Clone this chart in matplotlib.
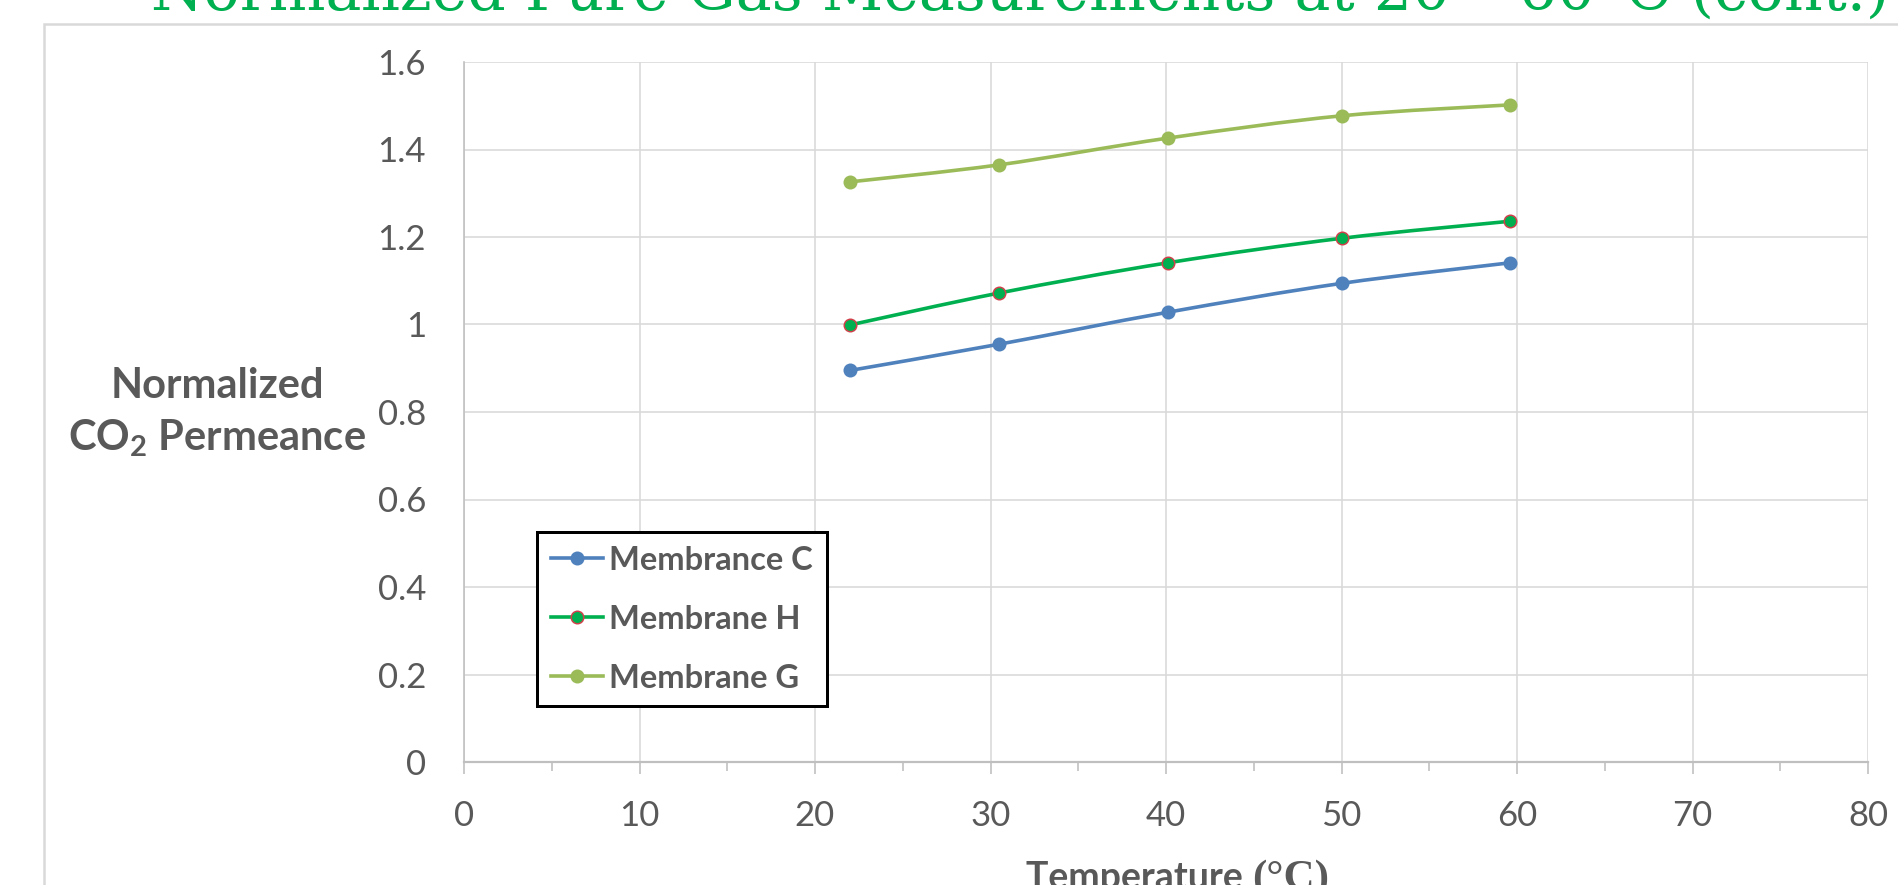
import numpy as np
import matplotlib
matplotlib.use('Agg')
import matplotlib.pyplot as plt
from matplotlib.path import Path
from matplotlib.patches import PathPatch, Rectangle
from matplotlib.lines import Line2D

# data
temps = [22, 30.5, 40.1, 50, 59.6]
membrance_c = [0.895, 0.955, 1.028, 1.094, 1.141]
membrane_h = [0.999, 1.072, 1.141, 1.197, 1.236]
membrane_g = [1.326, 1.365, 1.426, 1.477, 1.502]
series_names = ['Membrance C', 'Membrane H', 'Membrane G']

x_ticks = [0, 10, 20, 30, 40, 50, 60, 70, 80]
y_ticks = [0, 0.2, 0.4, 0.6, 0.8, 1.0, 1.2, 1.4, 1.6]
y_tick_labels = ['0', '0.2', '0.4', '0.6', '0.8', '1', '1.2', '1.4', '1.6']

title = 'Normalized Pure Gas Measurements at 20 \u2013 60\u00b0C (cont.)'

W, H = 1898, 885
GRAY_TXT = '#595959'
GRID = '#D9D9D9'
AXIS = '#BFBFBF'

plt.rcParams['font.family'] = ['Lato', 'DejaVu Sans']


def smooth_path(x, y):
    # excel style smoothed line (catmull-rom as bezier segments)
    pts = np.column_stack([x, y]).astype(float)
    n = len(pts)
    verts = [pts[0]]
    codes = [Path.MOVETO]
    for i in range(n - 1):
        p0 = pts[max(i - 1, 0)]
        p1 = pts[i]
        p2 = pts[i + 1]
        p3 = pts[min(i + 2, n - 1)]
        verts += [p1 + (p2 - p0) / 6, p2 - (p3 - p1) / 6, p2]
        codes += [Path.CURVE4] * 3
    return Path(verts, codes)


def px(v):
    # pixels -> points
    return v * 72 / 100


fig = plt.figure(figsize=(W / 100, H / 100), dpi=100)

# outer chart border
fig.add_artist(Rectangle((44 / W, -0.05), 1.2, 1 - 24 / H + 0.05,
                         transform=fig.transFigure, fill=False,
                         edgecolor=GRID, lw=px(2.5)))

ax = fig.add_axes([464 / W, 1 - 762 / H, (1868 - 464) / W, (762 - 62) / H])

series = [
    (membrance_c, '#4F81BD', '#4F81BD', '#4F81BD'),
    (membrane_h, '#00B050', '#00B050', '#D0404A'),
    (membrane_g, '#9BBB59', '#9BBB59', '#9BBB59'),
]

handles = []
for (vals, lc, mfc, mec), name in zip(series, series_names):
    ax.add_patch(PathPatch(smooth_path(temps, vals), facecolor='none',
                           edgecolor=lc, lw=px(3.6), zorder=3,
                           capstyle='round', joinstyle='round'))
    ax.plot(temps, vals, linestyle='none', marker='o', ms=px(12.5),
            mfc=mfc, mec=mec, mew=px(1.5), zorder=4)
    handles.append(Line2D([], [], color=lc, lw=px(3.6), marker='o',
                          ms=px(12.5), mfc=mfc, mec=mec, mew=px(1.5)))

ax.set_xlim(0, 80)
ax.set_ylim(0, 1.6)
ax.set_xticks(x_ticks)
ax.set_xticklabels([str(t) for t in x_ticks])
ax.set_xticks([5, 15, 25, 35, 45, 55, 65, 75], minor=True)
ax.set_yticks(y_ticks)
ax.set_yticklabels(y_tick_labels)

ax.grid(True, which='major', color=GRID, lw=px(1.6), zorder=0)
ax.set_axisbelow(True)
for s in ['top', 'right']:
    ax.spines[s].set_visible(False)
ax.spines['bottom'].set_color(AXIS)
ax.spines['bottom'].set_linewidth(px(2.2))
ax.spines['left'].set_color(AXIS)
ax.spines['left'].set_linewidth(px(1.6))

ax.tick_params(axis='x', which='major', direction='out', length=px(12),
               width=px(1.6), color=AXIS, pad=px(26), labelsize=25,
               labelcolor=GRAY_TXT)
ax.tick_params(axis='x', which='minor', direction='out', length=px(9),
               width=px(1.6), color=AXIS)
ax.tick_params(axis='y', length=0, pad=px(38), labelsize=25,
               labelcolor=GRAY_TXT)

# y label, horizontal two lines
fig.text(217 / W, 1 - 398 / H, 'Normalized', ha='center', va='baseline',
         fontsize=30, fontweight='bold', color=GRAY_TXT)
fig.text(217 / W, 1 - 450 / H, r'CO$_\mathregular{2}$ Permeance', ha='center',
         va='baseline', fontsize=30, fontweight='bold', color=GRAY_TXT)

# x label (cut by the bottom edge)
xl_y = 1 - 889 / H
fig.text(1252 / W, xl_y, 'Temperature ', ha='right', va='baseline',
         fontsize=27, fontweight='bold', color=GRAY_TXT)
fig.text(1252 / W, xl_y, '(\u00b0C)', ha='left', va='baseline',
         fontsize=31, fontweight='bold', color=GRAY_TXT,
         family='Liberation Serif')

leg = ax.legend(handles, series_names, loc='upper left',
                bbox_to_anchor=(537 / W, 1 - 532 / H),
                bbox_transform=fig.transFigure, borderaxespad=0,
                prop={'family': 'Lato', 'weight': 'bold', 'size': 23.5},
                labelcolor=GRAY_TXT, frameon=True, fancybox=False,
                edgecolor='black', handlelength=1.6, handletextpad=0.2,
                borderpad=0.42, labelspacing=0.92)
leg.get_frame().set_linewidth(px(3))
leg.get_frame().set_alpha(1)

# slide title, only lower part visible
t = fig.text(151 / W, 1 - 10 / H, title, ha='left', va='baseline',
             fontsize=36, color='#00B050', family='DejaVu Serif')
fig.canvas.draw()
w = t.get_window_extent().width
t.set_fontsize(36 * (1888 - 151) / w)

fig.savefig('out.png', dpi=100)
